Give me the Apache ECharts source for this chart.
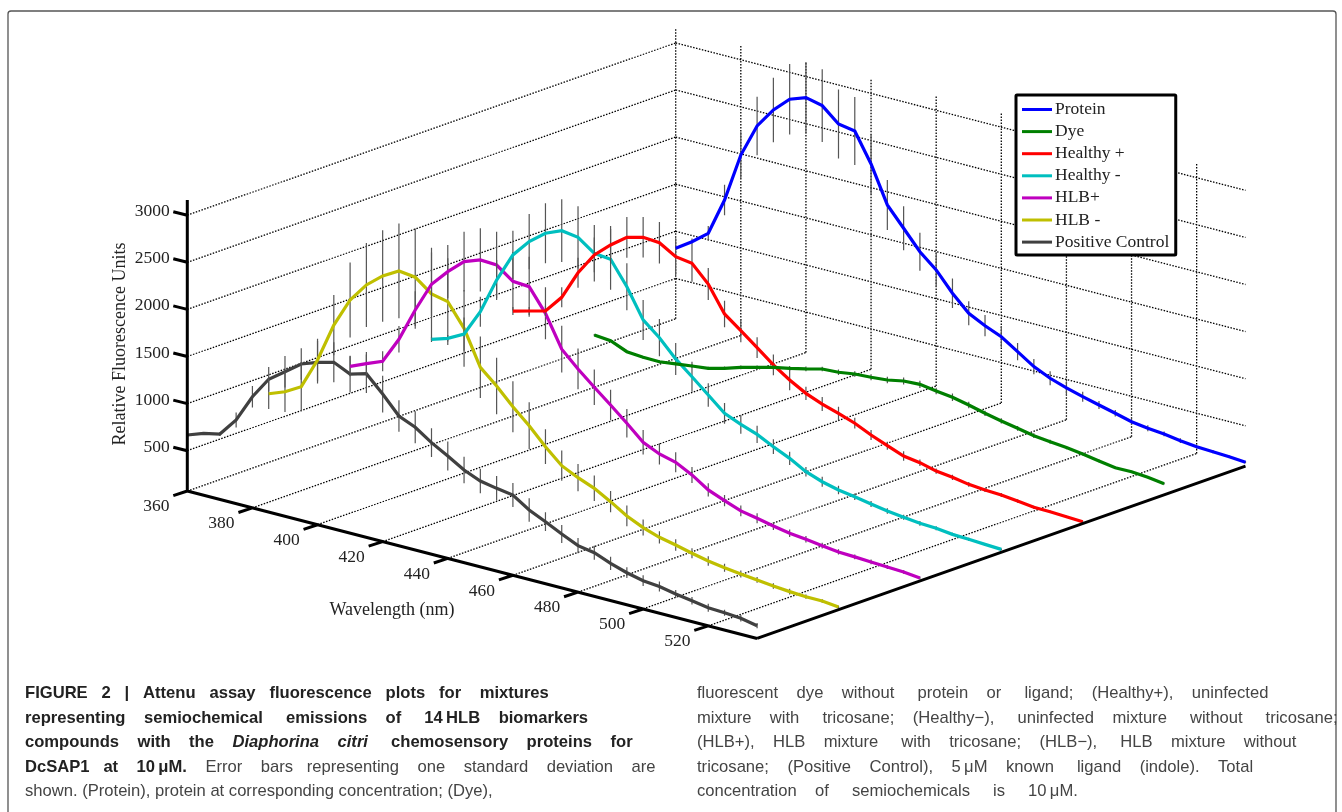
<!DOCTYPE html>
<html><head><meta charset="utf-8">
<style>html,body{margin:0;padding:0;background:#fff}#c{width:1342px;height:812px}</style>
<script src="https://cdn.jsdelivr.net/npm/echarts@6/dist/echarts.min.js"></script>
</head><body><div id="c"></div>
<script>
// Data
const wavelengthStart = 360, wavelengthStep = 5;
const wavelengthTicks = [360,380,400,420,440,460,480,500,520];
const rfuTicks = [500,1000,1500,2000,2500,3000];
const legendNames = ['Protein','Dye','Healthy +','Healthy -','HLB+','HLB -','Positive Control'];

const positiveControl = [667,729,766,960,1252,1482,1607,1734,1796,1841,1761,1809,1638,1450,1375,1256,1159,1055,983,950,924,810,730,644,565,535,467,412,372,354,321,294,264,256,241,207];
const positiveControlSd = [15,15,20,80,115,130,167,167,226,212,195,205,195,167,170,152,155,140,130,130,127,124,100,95,81,74,70,57,57,53,42,40,42,32,35,28];
const hlbMinus = [800,866,964,1292,1708,2019,2223,2363,2461,2439,2306,2269,2031,1662,1509,1333,1176,998,841,758,690,593,486,407,349,312,269,231,205,184,165,145,130,121,120,101];
const hlbMinusSd = [163,215,260,225,320,398,446,485,503,518,490,460,407,326,300,270,248,185,160,145,135,113,110,85,65,60,53,50,42,37,30,30,30,22,18,14];
const hlbPlus = [786,859,929,1207,1563,1881,2059,2210,2273,2264,2136,2123,1885,1549,1384,1235,1091,942,785,705,661,572,458,389,324,291,254,221,202,179,157,149,140,132,123,104];
const hlbPlusSd = [106,124,106,140,200,336,283,318,336,354,310,318,276,248,216,188,163,152,130,113,106,85,71,60,57,53,42,39,35,30,28,25,25,21,18,14];
const healthyMinus = [768,823,913,1195,1576,1887,2073,2207,2279,2253,2128,2109,1863,1555,1411,1230,1086,937,787,715,653,567,488,391,329,286,259,226,197,175,156,148,128,120,111,103];
const healthyMinusSd = [28,35,177,160,212,258,294,318,333,330,300,322,250,212,198,170,160,124,110,100,92,78,71,50,53,46,35,32,30,26,25,22,18,18,14,10];
const healthyPlus = [763,808,853,1043,1348,1582,1733,1859,1904,1891,1787,1761,1586,1313,1181,1045,906,791,694,625,571,511,431,362,297,271,227,205,175,160,152,133,110,108,100,91];
const healthyPlusSd = [42,42,53,106,160,184,200,216,216,220,195,195,170,140,124,110,110,110,71,74,71,57,53,42,50,35,28,28,25,21,21,18,18,14,10,10];
const dye = [204,188,116,101,99,120,143,163,208,263,308,352,386,425,469,479,505,515,531,565,574,549,527,489,446,409,376,342,323,305,282,253,226,228,213,190];
const dyeSd = [10,10,10,15,15,15,18,18,18,20,20,22,25,25,25,28,30,32,35,38,38,35,40,35,28,28,25,25,22,18,16,14,12,10,10,8];
const protein = [820,934,1068,1466,1988,2342,2556,2715,2776,2736,2586,2556,2251,1861,1658,1454,1305,1102,934,847,775,661,547,468,410,362,318,275,230,206,190,163,144,136,127,113];
const proteinSd = [18,35,78,163,248,311,343,375,379,386,365,361,319,265,234,202,184,156,127,113,113,92,81,74,71,53,42,35,32,32,25,25,21,18,14,10];

const captionLeft = [
  [['b','FIGURE 2 | Attenu assay fluorescence plots for mixtures']],
  [['b','representing semiochemical emissions of 14\u2009HLB biomarkers']],
  [['b','compounds with the '],['bi','Diaphorina citri'],['b',' chemosensory proteins for']],
  [['b','DcSAP1 at 10\u2009\u03bcM.'],['r',' Error bars representing one standard deviation are']],
  [['r','shown. (Protein), protein at corresponding concentration; (Dye),']]
];
const captionRight = [
  [['r','fluorescent dye without protein or ligand; (Healthy+), uninfected']],
  [['r','mixture with tricosane; (Healthy\u2212), uninfected mixture without tricosane;']],
  [['r','(HLB+), HLB mixture with tricosane; (HLB\u2212), HLB mixture without']],
  [['r','tricosane; (Positive Control), 5\u2009\u03bcM known ligand (indole). Total']],
  [['r','concentration of semiochemicals is 10\u2009\u03bcM.']]
];

// Oblique projection of the 3-D plot box onto the page
const RFU_MIN = 72, RFU_MAX = 3161, WL_MAX = 535, DEPTH_MAX = 6;
function project(w, depth, rfu) {
  return [187.3 + (w - 360) * 3.256 + depth * 81.4,
          497.8 - 0.0942 * rfu + (w - 360) * 0.8424 - depth * 28.72];
}
const wl = i => wavelengthStart + i * wavelengthStep;
const SERIES = [
  ['Positive Control', positiveControl, positiveControlSd, '#404040', 0],
  ['HLB -', hlbMinus, hlbMinusSd, '#BFBF00', 1],
  ['HLB+', hlbPlus, hlbPlusSd, '#BF00BF', 2],
  ['Healthy -', healthyMinus, healthyMinusSd, '#00BFBF', 3],
  ['Healthy +', healthyPlus, healthyPlusSd, '#FF0000', 4],
  ['Dye', dye, dyeSd, '#007F00', 5],
  ['Protein', protein, proteinSd, '#0000FF', 6]
];
const BR = [null, null];
function segs(list) { const o = []; list.forEach(s => { o.push(project(...s[0]), project(...s[1]), BR); }); return o; }

const gridSegs = [];
rfuTicks.forEach(z => gridSegs.push([[360,0,z],[360,DEPTH_MAX,z]], [[360,DEPTH_MAX,z],[WL_MAX,DEPTH_MAX,z]]));
wavelengthTicks.forEach(w => gridSegs.push([[w,0,RFU_MIN],[w,DEPTH_MAX,RFU_MIN]], [[w,DEPTH_MAX,RFU_MIN],[w,DEPTH_MAX,RFU_MAX]]));

const axisData = [];
[[[360,0,RFU_MIN],[360,0,RFU_MAX]], [[360,0,RFU_MIN],[WL_MAX,0,RFU_MIN]], [[WL_MAX,0,RFU_MIN],[WL_MAX,DEPTH_MAX,RFU_MIN]]]
  .forEach(s => axisData.push(project(...s[0]), project(...s[1]), BR));
rfuTicks.forEach(z => { const a = project(360,0,z); axisData.push(a, [a[0]-14, a[1]-3.5], BR); });
wavelengthTicks.forEach(w => { const a = project(w,0,RFU_MIN); axisData.push(a, [a[0]-14, a[1]+4.6], BR); });

const labelItems = [];
rfuTicks.forEach(z => { const a = project(360,0,z); labelItems.push({p:[a[0]-17.5,a[1]-3.5], t:String(z), align:'right'}); });
wavelengthTicks.forEach(w => { const a = project(w,0,RFU_MIN); labelItems.push({p:[a[0]-31,a[1]+15.7], t:String(w), align:'center'}); });
labelItems.push({p:[392,610], t:'Wavelength (nm)', align:'center', size:18});

const AF = '"Liberation Serif","Times New Roman",serif';
const series = [
  { type:'line', name:'grid', data:segs(gridSegs), symbol:'none', silent:true, z:1, clip:false, connectNulls:false,
    lineStyle:{color:'#000', width:1.3, type:[1.5,1.5]}, animation:false },
  { type:'line', name:'axes', data:axisData, symbol:'none', silent:true, z:30, clip:false, connectNulls:false,
    lineStyle:{color:'#000', width:3}, animation:false },
  { type:'custom', name:'labels', silent:true, z:31, clip:false, animation:false,
    data:labelItems.map(d => d.p), encode:{x:0,y:1},
    renderItem:(params, api) => {
      const d = labelItems[params.dataIndex], c = api.coord(d.p);
      return {type:'text', x:c[0], y:c[1], style:{text:d.t, font:(d.size||17.5)+'px '+AF, fill:'#222', align:d.align, verticalAlign:'middle'}};
    } }
];
SERIES.forEach(([name, vals, sd, color, depth]) => {
  const bars = [];
  vals.forEach((v, i) => { bars.push(project(wl(i),depth,v-sd[i]), project(wl(i),depth,v+sd[i]), BR); });
  series.push({ type:'line', name:name+' sd', data:bars, symbol:'none', silent:true, z:2+depth*2, clip:false, connectNulls:false,
    lineStyle:{color:'#555', width:1.2}, animation:false });
  series.push({ type:'line', name, data:vals.map((v,i)=>project(wl(i),depth,v)), symbol:'none', z:3+depth*2, clip:false,
    itemStyle:{color}, lineStyle:{color, width:3.2, join:'miter'}, animation:false });
});

// Justified caption lines
const CF = '"Liberation Sans",Arial,sans-serif', CS = 16.6;
const fonts = { b:`bold ${CS}px ${CF}`, bi:`italic bold ${CS}px ${CF}`, r:`${CS}px ${CF}` };
const mctx = document.createElement('canvas').getContext('2d');
function mw(f,t){ mctx.font=f; return mctx.measureText(t).width; }
function justify(line, target) {
  let w = 0, gaps = 0;
  line.forEach(([k,t]) => { w += mw(fonts[k], t); gaps += (t.match(/ /g)||[]).length; });
  const sp = mw(fonts.r,' ');
  const per = Math.max(0, (target - w) / (gaps || 1) / sp);
  let acc = 0;
  return line.map(([k,t]) => '{'+k+'|'+t.replace(/ /g, () => {
    acc += per; const n = Math.floor(acc); acc -= n; return ' '.repeat(n+1);
  })+'}').join('');
}
const rich = {
  b:{font:fonts.b, fill:'#222'}, bi:{font:fonts.bi, fill:'#222'}, r:{font:fonts.r, fill:'#444'}
};
const capY = [693,718,742,767,791];
const leftEnds = [549,591,636,656,491], rightEnds = [1273,1338,1300,1255,1080];
const graphic = [{ type:'rect', shape:{x:8,y:11,width:1328,height:900,r:3}, style:{fill:'none',stroke:'#555',lineWidth:1.3}, z:0, silent:true }];
captionLeft.forEach((l,i) => graphic.push({type:'text', x:25, y:capY[i], silent:true,
  style:{text:justify(l, leftEnds[i]-25), rich, verticalAlign:'middle', align:'left'}}));
captionRight.forEach((l,i) => graphic.push({type:'text', x:697, y:capY[i], silent:true,
  style:{text:justify(l, rightEnds[i]-697), rich, verticalAlign:'middle', align:'left'}}));
graphic.push({type:'text', x:120, y:344, rotation:Math.PI/2, silent:true,
  style:{text:'Relative Fluorescence Units', font:'18px '+AF, fill:'#222', align:'center', verticalAlign:'middle'}});

const chart = echarts.init(document.getElementById('c'));
chart.setOption({
  animation:false, backgroundColor:'#fff',
  grid:{left:0,right:0,top:0,bottom:0},
  xAxis:{type:'value',min:0,max:1342,show:false},
  yAxis:{type:'value',min:0,max:812,inverse:true,show:false},
  tooltip:{show:false},
  legend:{ data:legendNames, orient:'vertical', left:1016, top:95, z:100, icon:'rect',
    itemWidth:30, itemHeight:3, itemGap:4.1, padding:[5.5,6.5,4,6], selectedMode:false,
    backgroundColor:'#fff', borderColor:'#000', borderWidth:3, borderRadius:1,
    textStyle:{fontFamily:AF, fontSize:17.5, color:'#222', lineHeight:16, padding:[0,0,0,-2]} },
  graphic,
  series
});
</script></body></html>
